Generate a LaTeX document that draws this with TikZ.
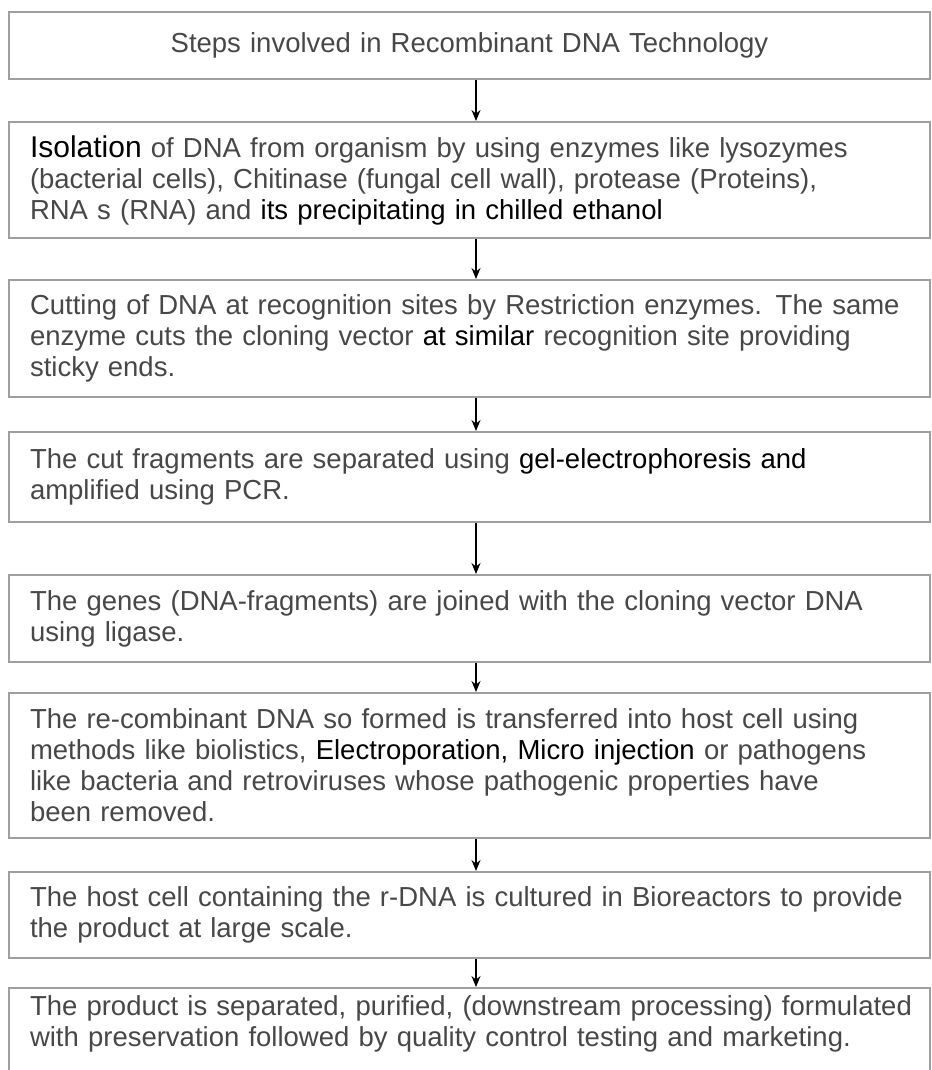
\documentclass[tikz,border=0pt]{standalone}
\usepackage{fontspec}
\setmainfont{Liberation Sans}
\usetikzlibrary{positioning,arrows.meta}

\newcommand{\ovl}[1]{{\color{black}#1}}

\begin{document}
\begin{tikzpicture}[x=1pt, y=1pt,
    font=\fontsize{27.5}{31}\selectfont,
    box/.style={draw=gray!75, line width=2pt, inner ysep=0pt, inner xsep=21pt,
                text width=879pt, text=black!72},
    titlebox/.style={box, align=center, minimum height=67pt},
    stepbox/.style={box, align=left},
    arr/.style={-{Stealth[length=11pt, width=9pt]}, line width=1.1pt, black}
  ]
  \useasboundingbox (0,0) rectangle (931,-1070);

  % ---- title ----
  \node[titlebox] (title) at (469.5,-45.5)
    {Steps involved in Recombinant DNA Technology};

  % ---- steps ----
  \node[stepbox, minimum height=116pt, below=41pt of title] (isolate)
    {\ovl{\fontsize{30}{31}\selectfont Isolation} of DNA from organism by using enzymes like lysozymes \\
     (bacterial cells), Chitinase (fungal cell wall), protease (Proteins), \\
     RNA s (RNA) and \ovl{its precipitating in chilled ethanol}};
  \node[stepbox, minimum height=117pt, below=40pt of isolate] (cutting)
    {Cutting of DNA at recognition sites by Restriction enzymes. The same \\
     enzyme cuts the cloning vector \ovl{at similar} recognition site providing \\
     sticky ends.};
  \node[stepbox, minimum height=90pt, below=33pt of cutting] (separate)
    {The cut fragments are separated using \ovl{gel-electrophoresis and} \\
     amplified using PCR.};
  \node[stepbox, minimum height=87pt, below=51pt of separate] (ligate)
    {The genes (DNA-fragments) are joined with the cloning vector DNA \\
     using ligase.};
  \node[stepbox, minimum height=145pt, below=29pt of ligate] (transfer)
    {The re-combinant DNA so formed is transferred into host cell using \\
     methods like biolistics, \ovl{Electroporation, Micro injection} or pathogens \\
     like bacteria and retroviruses whose pathogenic properties have \\
     been removed.};
  \node[stepbox, minimum height=86pt, below=32pt of transfer] (culture)
    {\mbox{The host cell containing the r-DNA is cultured in Bioreactors to provide} \\
     the product at large scale.};
  \node[stepbox, inner ysep=8pt, text depth=62pt, below=28pt of culture] (product)
    {\mbox{The product is separated, purified, (downstream processing) formulated} \\
     \mbox{with preservation followed by quality control testing and marketing.}};

  % ---- arrows ----
  \foreach \a/\b in {title/isolate, isolate/cutting, cutting/separate,
                     separate/ligate, ligate/transfer, transfer/culture,
                     culture/product}
    \draw[arr] ([xshift=6.5pt]\a.south) -- ([xshift=6.5pt]\b.north);

\end{tikzpicture}
\end{document}
